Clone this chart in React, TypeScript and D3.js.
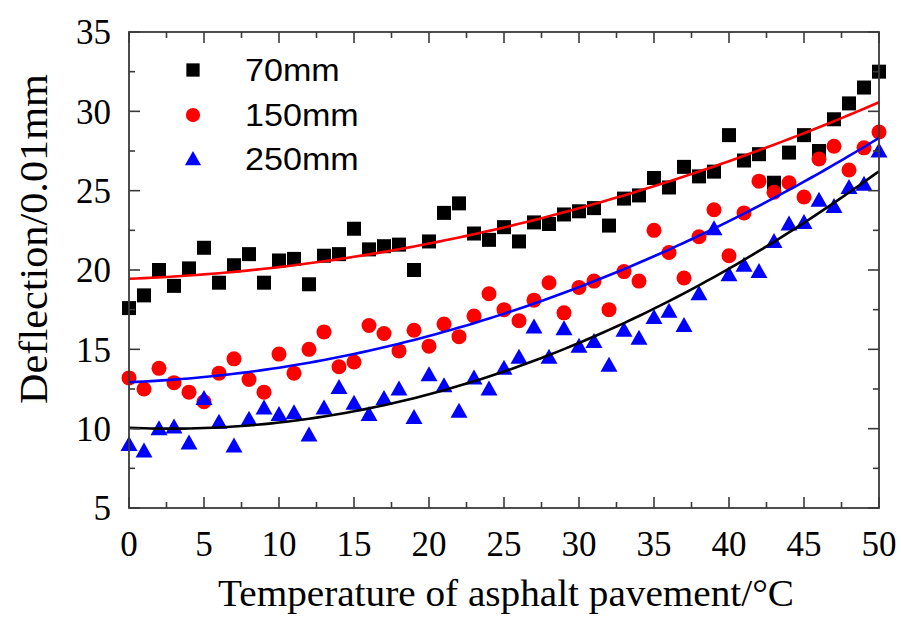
import React from "react";
import * as d3 from "d3";

const temps: number[] = Array.from({ length: 51 }, (_, i) => i);

const s70: number[] = [
  17.6, 18.4, 20.0, 19.0, 20.1, 21.4, 19.2, 20.3, 21.0, 19.2,
  20.6, 20.7, 19.1, 20.9, 21.0, 22.6, 21.3, 21.5, 21.6, 20.0,
  21.8, 23.6, 24.2, 22.3, 21.9, 22.7, 21.8, 23.0, 22.9, 23.5,
  23.7, 23.9, 22.8, 24.5, 24.7, 25.8, 25.2, 26.5, 25.9, 26.2,
  28.5, 26.9, 27.3, 25.5, 27.4, 28.5, 27.5, 29.5, 30.5, 31.5,
  32.5,
];

const s150: number[] = [
  13.2, 12.5, 13.8, 12.9, 12.3, 11.7, 13.5, 14.4, 13.1, 12.3,
  14.7, 13.5, 15.0, 16.1, 13.9, 14.2, 16.5, 16.0, 14.9, 16.2,
  15.2, 16.6, 15.8, 17.1, 18.5, 17.5, 16.8, 18.1, 19.2, 17.3,
  18.9, 19.3, 17.5, 19.9, 19.3, 22.5, 21.1, 19.5, 22.1, 23.8,
  20.9, 23.6, 25.6, 24.9, 25.5, 24.6, 27.0, 27.8, 26.3, 27.7,
  28.7,
];

const s250: number[] = [
  9.0, 8.6, 10.0, 10.1, 9.1, 11.9, 10.4, 8.9, 10.6, 11.3,
  10.9, 11.0, 9.6, 11.3, 12.6, 11.6, 10.9, 11.9, 12.5, 10.7,
  13.4, 12.7, 11.1, 13.2, 12.5, 13.8, 14.5, 16.4, 14.5, 16.3,
  15.2, 15.5, 14.0, 16.2, 15.7, 17.0, 17.4, 16.5, 18.5, 22.6,
  19.7, 20.3, 19.9, 21.8, 22.9, 23.0, 24.4, 24.0, 25.2, 25.4,
  27.5,
];

const seriesNames: string[] = ["70mm", "150mm", "250mm"];
const markerColors: string[] = ["#000000", "#ff0000", "#0000ff"];
const fitColors: string[] = ["#ff0000", "#0000ff", "#000000"];
const xTicks: number[] = [0, 5, 10, 15, 20, 25, 30, 35, 40, 45, 50];
const yTicks: number[] = [5, 10, 15, 20, 25, 30, 35];
const xTitle = "Temperature of asphalt pavement/°C";
const yTitle = "Deflection/0.01mm";

// least-squares quadratic fit
function quadFit(xs: number[], ys: number[]): [number, number, number] {
  let s0 = 0, s1 = 0, s2 = 0, s3 = 0, s4 = 0, t0 = 0, t1 = 0, t2 = 0;
  for (let i = 0; i < xs.length; i++) {
    const x = xs[i], y = ys[i];
    s0 += 1; s1 += x; s2 += x * x; s3 += x * x * x; s4 += x * x * x * x;
    t0 += y; t1 += x * y; t2 += x * x * y;
  }
  const M = [
    [s0, s1, s2, t0],
    [s1, s2, s3, t1],
    [s2, s3, s4, t2],
  ];
  for (let c = 0; c < 3; c++) {
    let p = c;
    for (let r = c + 1; r < 3; r++) if (Math.abs(M[r][c]) > Math.abs(M[p][c])) p = r;
    [M[c], M[p]] = [M[p], M[c]];
    for (let r = 0; r < 3; r++) {
      if (r === c) continue;
      const f = M[r][c] / M[c][c];
      for (let k = c; k < 4; k++) M[r][k] -= f * M[c][k];
    }
  }
  return [M[0][3] / M[0][0], M[1][3] / M[1][1], M[2][3] / M[2][2]];
}

export default function App() {
  const W = 901, H = 617;
  const left = 129, right = 879, top = 32, bottom = 508;
  const x = d3.scaleLinear().domain([0, 50]).range([left, right]);
  const y = d3.scaleLinear().domain([5, 35]).range([bottom, top]);

  const all = [s70, s150, s250];
  const line = d3.line<[number, number]>().x((d) => x(d[0])).y((d) => y(d[1])).curve(d3.curveLinear);
  const fits = all.map((ys) => {
    const [a, b, c] = quadFit(temps, ys);
    const pts: [number, number][] = d3.range(0, 50.001, 0.5).map((t) => [t, a + b * t + c * t * t]);
    return line(pts) || "";
  });

  const xMinor = d3.range(0, 50.001, 2.5);
  const yMinor = d3.range(5, 35.001, 2.5);
  const axisColor = "#3a3a3a";
  const serif = "'Liberation Serif', 'Times New Roman', serif";

  const marker = (k: number, cx: number, cy: number, key: string, sz = 1) => {
    if (k === 0) {
      const h = 7 * sz;
      return <rect key={key} x={cx - h} y={cy - h} width={2 * h} height={2 * h} fill={markerColors[0]} />;
    }
    if (k === 1) return <circle key={key} cx={cx} cy={cy} r={7.5 * sz} fill={markerColors[1]} />;
    const w = 8.5 * sz, hh = 7.5 * sz;
    return (
      <path
        key={key}
        d={`M${cx},${cy - hh - 1}L${cx + w},${cy + hh - 1}L${cx - w},${cy + hh - 1}Z`}
        fill={markerColors[2]}
      />
    );
  };

  return (
    <svg width={W} height={H} style={{ position: "absolute", left: 0, top: 0, background: "#fff" }}>
      <rect x={0} y={0} width={W} height={H} fill="#fff" />
      {all.map((ys, k) => (
        <g key={"s" + k}>{ys.map((v, i) => marker(k, x(temps[i]), y(v), `m${k}-${i}`))}</g>
      ))}
      {fits.map((d, k) => (
        <path key={"f" + k} d={d} fill="none" stroke={fitColors[k]} strokeWidth={2.6} />
      ))}
      <rect x={left} y={top} width={right - left} height={bottom - top} fill="none" stroke={axisColor} strokeWidth={1.8} />
      {xMinor.map((t, i) => {
        const major = t % 5 === 0;
        const len = major ? 11 : 6;
        return (
          <g key={"xt" + i} stroke={axisColor} strokeWidth={1.6}>
            <line x1={x(t)} x2={x(t)} y1={bottom} y2={bottom - len} />
            <line x1={x(t)} x2={x(t)} y1={top} y2={top + len} />
          </g>
        );
      })}
      {yMinor.map((v, i) => {
        const major = v % 5 === 0;
        const len = major ? 11 : 6;
        return (
          <g key={"yt" + i} stroke={axisColor} strokeWidth={1.6}>
            <line x1={left} x2={left + len} y1={y(v)} y2={y(v)} />
            <line x1={right} x2={right - len} y1={y(v)} y2={y(v)} />
          </g>
        );
      })}
      {xTicks.map((t) => (
        <text key={"xl" + t} x={x(t)} y={556} textAnchor="middle" fontFamily={serif} fontSize={35} fill="#000">
          {t}
        </text>
      ))}
      {yTicks.map((v) => (
        <text key={"yl" + v} x={111} y={y(v)} dy="0.35em" textAnchor="end" fontFamily={serif} fontSize={35} fill="#000">
          {v}
        </text>
      ))}
      <text x={506} y={606} textAnchor="middle" fontFamily={serif} fontSize={38} fill="#000"
        textLength={576} lengthAdjust="spacingAndGlyphs">
        {xTitle}
      </text>
      <text
        transform={`translate(47,${239}) rotate(-90)`}
        textAnchor="middle"
        fontFamily={serif}
        fontSize={39}
        fill="#000"
        textLength={330}
        lengthAdjust="spacingAndGlyphs"
      >
        {yTitle}
      </text>
      {seriesNames.map((n, k) => {
        const ly = [70, 115, 159][k];
        return (
          <g key={"lg" + k}>
            {marker(k, 193, ly, "lm" + k, 0.95)}
            <text transform={`translate(245,${ly}) scale(1.1,1)`} dy="0.36em" fontFamily="'Liberation Sans', Arial, sans-serif" fontSize={31} fill="#000">
              {n}
            </text>
          </g>
        );
      })}
    </svg>
  );
}
